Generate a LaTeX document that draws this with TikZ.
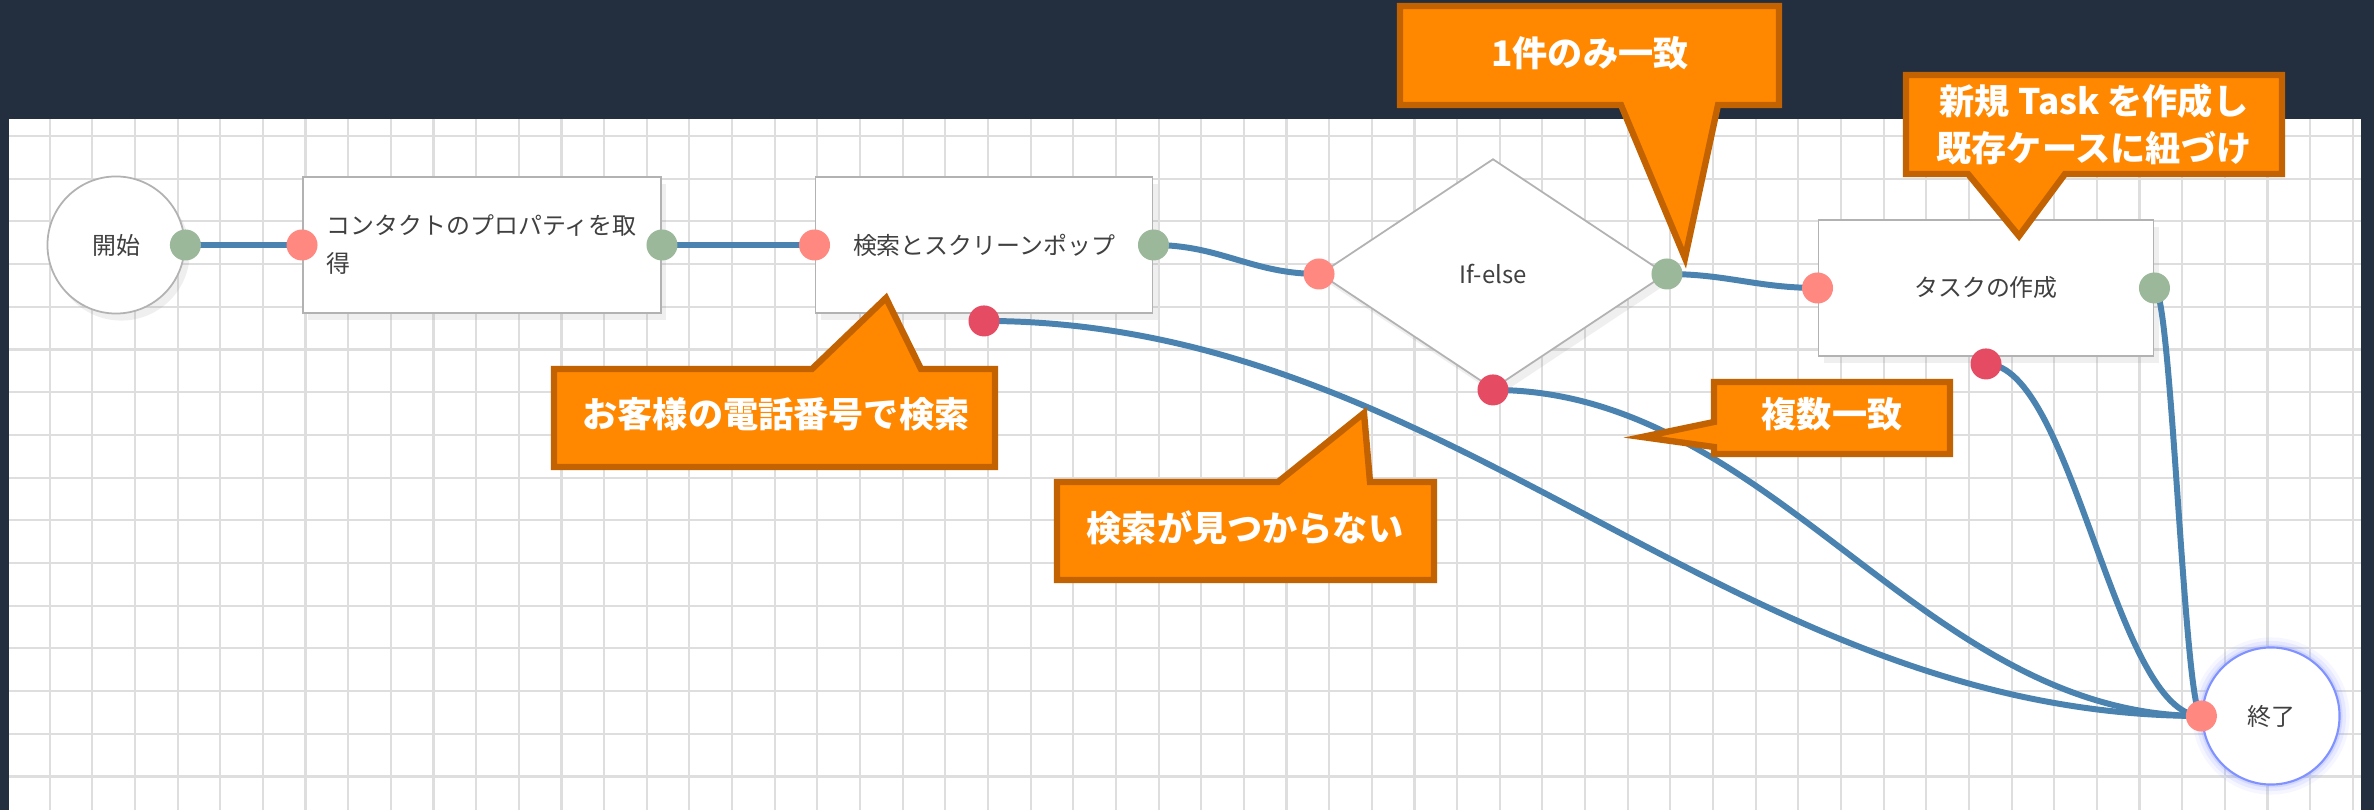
\documentclass[tikz,border=0pt]{standalone}
\usepackage{fontspec}
\setmainfont{Noto Sans CJK JP}
\usetikzlibrary{shapes.geometric, shadows}
\definecolor{squid}{RGB}{35, 46, 62}
\definecolor{gridgray}{RGB}{222, 222, 222}
\definecolor{wireblue}{RGB}{74, 130, 176}
\definecolor{portgreen}{RGB}{155, 184, 154}
\definecolor{portsalmon}{RGB}{255, 136, 128}
\definecolor{portred}{RGB}{229, 75, 99}
\definecolor{notefill}{RGB}{255, 136, 0}
\definecolor{noteedge}{RGB}{194, 98, 0}
\definecolor{glowblue}{RGB}{128, 146, 255}
\pgfdeclarelayer{bg}
\pgfdeclarelayer{wires}
\pgfsetlayers{bg,wires,main}

\begin{document}
\begin{tikzpicture}[
        x=0.01cm, y=-0.01cm, % one pixel of the screenshot
        font=\fontsize{6.8pt}{10.8pt}\selectfont,
        gridline/.style={draw=gridgray, line width=0.6pt},
        wire/.style={draw=wireblue, line width=1.7pt},
        block/.style={
            draw=black!30,
            line width=0.5pt,
            fill=white,
            text=black!75,
            minimum height=1.36cm,
            drop shadow={shadow xshift=1.5pt, shadow yshift=-2pt, opacity=0.12}
        },
        term/.style={block, circle, minimum size=1.37cm},
        port/.style={circle, fill=#1, inner sep=0pt, minimum size=0.31cm},
        notebox/.style={fill=notefill, draw=noteedge, line width=1.8pt},
        note/.style={text=white, align=center,
            font=\fontsize{10pt}{13.4pt}\selectfont\bfseries}
    ]
    \useasboundingbox (0,0) rectangle (2374,810);

    % canvas
    \begin{pgfonlayer}{bg}
        \fill[squid] (0,0) rectangle (2374,810);
        \fill[white] (9,119) rectangle (2361,810);
        \foreach \i in {1,...,55}
            \draw[gridline] ({7+42.65*\i},119) -- ({7+42.65*\i},810);
        \foreach \j in {0,...,15}
            \draw[gridline] (9,{136+42.7*\j}) -- (2361,{136+42.7*\j});
    \end{pgfonlayer}

    % blocks
    \node[term] (start) at (116,245) {開始};
    \node[block, minimum width=3.58cm, text width=3.1cm, align=left] (box1) at (482,245)
        {コンタクトのプロパティを取\\得};
    \node[block, minimum width=3.37cm] (box2) at (984,245) {検索とスクリーンポップ};
    \node[block, diamond, minimum width=3.46cm, minimum height=2.3cm, inner sep=0pt] (ifelse) at (1493,274) {If-else};
    \node[block, minimum width=3.35cm] (box3) at (1986,288) {タスクの作成};
    \foreach \w/\o in {6pt/0.08, 4pt/0.12, 2pt/0.2}
        \draw[glowblue, line width=\w, opacity=\o] (2271,716) circle[radius=68];
    \node[circle, draw=glowblue, line width=0.6pt, fill=white, text=black!75,
        minimum size=1.37cm] (stop) at (2271,716) {終了};

    % ports
    \node[port=portgreen] (g0) at (start.east) {};
    \node[port=portsalmon] (r1) at (box1.west) {};
    \node[port=portgreen] (g1) at (box1.east) {};
    \node[port=portsalmon] (r2) at (box2.west) {};
    \node[port=portgreen] (g2) at (box2.east) {};
    \node[port=portred] (e2) at ([yshift=-2pt]box2.south) {};
    \node[port=portsalmon] (r3) at (ifelse.west) {};
    \node[port=portgreen] (g3) at (ifelse.east) {};
    \node[port=portred] (e3) at (ifelse.south) {};
    \node[port=portsalmon] (r4) at (box3.west) {};
    \node[port=portgreen] (g4) at (box3.east) {};
    \node[port=portred] (e4) at ([yshift=-2pt]box3.south) {};
    \node[port=portsalmon] (rend) at (stop.west) {};

    % connectors
    \begin{pgfonlayer}{wires}
        \draw[wire] (g0.center) -- (r1.center);
        \draw[wire] (g1.center) -- (r2.center);
        \draw[wire] (g2.center) .. controls +(67,0) and +(-67,0) .. (r3.center);
        \draw[wire] (g3.center) .. controls +(60,0) and +(-60,0) .. (r4.center);
        \draw[wire] (e2.center) .. controls +(470,0) and +(-470,0) .. (rend.center);
        \draw[wire] (e3.center) .. controls +(280,0) and +(-280,0) .. (rend.center);
        \draw[wire] (e4.center) .. controls +(87,0) and +(-87,0) .. (rend.center);
        \draw[wire] (g4.center) .. controls +(17,0) and +(-17,0) .. (rend.center);
    \end{pgfonlayer}

    % callouts
    \draw[notebox] (554,369) -- (812,369) -- (886,298) -- (921,369) -- (995,369)
        -- (995,467) -- (554,467) -- cycle;
    \node[note] (n1) at (776,414) {お客様の電話番号で検索};

    \draw[notebox] (1057,482) -- (1278,482) -- (1364,413) -- (1370,482) -- (1434,482)
        -- (1434,580) -- (1057,580) -- cycle;
    \node[note] (n2) at (1245,528) {検索が見つからない};

    \draw[notebox] (1400,6) -- (1779,6) -- (1779,105) -- (1718,105) -- (1685,258)
        -- (1621,105) -- (1400,105) -- cycle;
    \node[note] (n3) at (1590,53) {1件のみ一致};

    \draw[notebox] (1906,75) -- (2282,75) -- (2282,174) -- (2065,174) -- (2019,236)
        -- (1968,174) -- (1906,174) -- cycle;
    \node[note] (n4) at (2094,124) {新規 Task を作成し\\既存ケースに紐づけ};

    \draw[notebox] (1714,382) -- (1950,382) -- (1950,454) -- (1714,454) -- (1714,447)
        -- (1642,437) -- (1714,422) -- cycle;
    \node[note] (n5) at (1832,414) {複数一致};
\end{tikzpicture}
\end{document}
